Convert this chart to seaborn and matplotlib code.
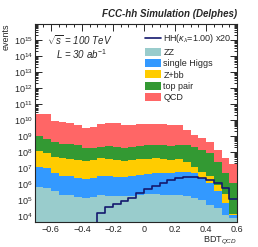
import numpy as np
import pandas as pd
import matplotlib
matplotlib.use("Agg")
import matplotlib.pyplot as plt
import seaborn as sns
from matplotlib.lines import Line2D
from matplotlib.patches import Patch
from matplotlib.ticker import LogLocator, MultipleLocator, NullFormatter, FuncFormatter

# binning of the BDT output
bin_edges = [round(-0.70 + 0.05 * i, 2) for i in range(27)]
bin_centers = [round(e + 0.025, 3) for e in bin_edges[:-1]]

# log10 of the top of each layer in the stack
zz_top = [5.81, 5.77, 5.56, 5.32, 5.32, 5.19, 5.15, 5.19, 5.32, 5.25, 5.25, 5.25, 5.29,
          5.36, 5.40, 5.40, 5.36, 5.32, 5.32, 5.25, 5.15, 5.05, 4.74, 4.53, 4.12, 3.90]
higgs_top = [7.10, 7.00, 6.69, 6.49, 6.49, 6.38, 6.34, 6.38, 6.49, 6.49, 6.44, 6.44, 6.49,
             6.58, 6.62, 6.69, 6.69, 6.72, 6.79, 6.75, 6.69, 6.38, 6.07, 5.56, 4.84, 4.12]
zbb_top = [8.06, 7.92, 7.72, 7.61, 7.57, 7.51, 7.45, 7.51, 7.61, 7.57, 7.51, 7.47, 7.51,
           7.57, 7.57, 7.61, 7.57, 7.51, 7.57, 7.41, 7.10, 6.79, 6.49, 5.97, 5.40, 4.14]
ttbar_top = [9.01, 8.80, 8.64, 8.54, 8.54, 8.43, 8.23, 8.27, 8.33, 8.39, 8.33, 8.27, 8.33,
             8.39, 8.43, 8.47, 8.43, 8.40, 8.45, 8.47, 8.33, 8.12, 7.92, 7.41, 6.69, 6.07]
qcd_top = [10.38, 10.38, 9.91, 9.87, 9.83, 9.70, 9.50, 9.56, 9.77, 9.83, 9.83, 9.70, 9.70,
           9.77, 9.77, 9.77, 9.77, 9.70, 9.70, 9.36, 9.09, 8.89, 8.64, 8.12, 7.66, 7.24]

# signal (x20), log10 of events, empty below -0.3
hh_log = [None] * 8 + [4.20, 4.60, 4.80, 4.95, 5.15, 5.45, 5.70, 5.90, 6.10, 6.30,
                       6.42, 6.45, 6.45, 6.40, 6.30, 6.10, 5.80, 5.10]

processes = ["QCD", "top pair", "Z+bb", "single Higgs", "ZZ"]   # top -> bottom
colors = {"QCD": "#ff6666", "top pair": "#339933", "Z+bb": "#ffcc00",
          "single Higgs": "#3399ff", "ZZ": "#99cccc"}
hh_color = "#14196e"

# turn the stack tops into per-process contributions
names_bottom_up = ["ZZ", "single Higgs", "Z+bb", "top pair", "QCD"]
cum = 10.0 ** np.array([zz_top, higgs_top, zbb_top, ttbar_top, qcd_top])
contrib = np.diff(np.vstack([np.zeros(len(bin_centers)), cum]), axis=0)
rows = []
for name, vals in zip(names_bottom_up, contrib):
    for x, w in zip(bin_centers, vals):
        rows.append({"bdt": x, "events": w, "process": name})
df = pd.DataFrame(rows)

hh_df = pd.DataFrame({"bdt": bin_centers,
                      "events": [0.0 if v is None else 10.0 ** v for v in hh_log]})

sns.set_style("ticks")
plt.rcParams["font.family"] = ["Liberation Sans", "DejaVu Sans"]
plt.rcParams["mathtext.fontset"] = "custom"
plt.rcParams["mathtext.rm"] = "Liberation Sans"
plt.rcParams["mathtext.it"] = "Liberation Sans:italic"
plt.rcParams["mathtext.bf"] = "Liberation Sans:bold"

fig = plt.figure(figsize=(2.58, 2.47), dpi=100)
ax = fig.add_axes([0.137, 0.101, 0.782, 0.802])
ax.set_yscale("log")

sns.histplot(data=df, x="bdt", weights="events", hue="process", hue_order=processes,
             palette=colors, bins=bin_edges, multiple="stack", element="step",
             alpha=1, linewidth=0, legend=False, ax=ax)
sns.histplot(data=hh_df, x="bdt", weights="events", bins=bin_edges, element="step",
             fill=False, color=hh_color, linewidth=1.2, ax=ax)

ax.set_xlim(-0.7, 0.6)
ax.set_ylim(4.5e3, 9.5e15)

ax.xaxis.set_major_locator(MultipleLocator(0.2))
ax.xaxis.set_minor_locator(MultipleLocator(0.05))
ax.xaxis.set_major_formatter(FuncFormatter(
    lambda v, p: "0" if abs(v) < 1e-9 else f"{v:.1f}".replace("-", "\u2212")))
ax.yaxis.set_major_locator(LogLocator(base=10, numticks=30))
ax.yaxis.set_minor_locator(LogLocator(base=10, subs=np.arange(2, 10), numticks=30))
ax.yaxis.set_minor_formatter(NullFormatter())
ax.tick_params(which="both", direction="in", top=True, right=True, labelsize=6.5, pad=2, width=0.7)
ax.tick_params(which="major", length=5)
ax.tick_params(which="minor", length=2.5)
for s in ax.spines.values():
    s.set_linewidth(0.8)

ax.set_xlabel(r"BDT$_{QCD}$", loc="right", fontsize=6.5, labelpad=0.5)
ax.set_ylabel("events", loc="top", fontsize=6.5, labelpad=2)

ax.text(1.0, 1.025, "FCC-hh Simulation (Delphes)", transform=ax.transAxes, ha="right",
        va="bottom", fontsize=7, fontweight="bold", fontstyle="italic")
ax.text(0.06, 0.92, r"$\sqrt{s}$ = 100 TeV", transform=ax.transAxes, fontsize=7,
        fontstyle="italic", va="center")
ax.text(0.10, 0.85, r"L = 30 ab$^{-1}$", transform=ax.transAxes, fontsize=7,
        fontstyle="italic", va="center")

handles = [Line2D([], [], color=hh_color, linewidth=1.2)]
handles += [Patch(facecolor=colors[n], edgecolor="none") for n in names_bottom_up]
labels = [r"HH($\kappa_{\lambda}$=1.00) x20"] + names_bottom_up
ax.legend(handles, labels, loc="upper right", bbox_to_anchor=(1.0, 0.985), frameon=False,
          fontsize=6.5, handlelength=1.7, handleheight=1.0, handletextpad=0.3,
          labelspacing=0.25, borderaxespad=0.2)

fig.savefig("out.png", dpi=100)
